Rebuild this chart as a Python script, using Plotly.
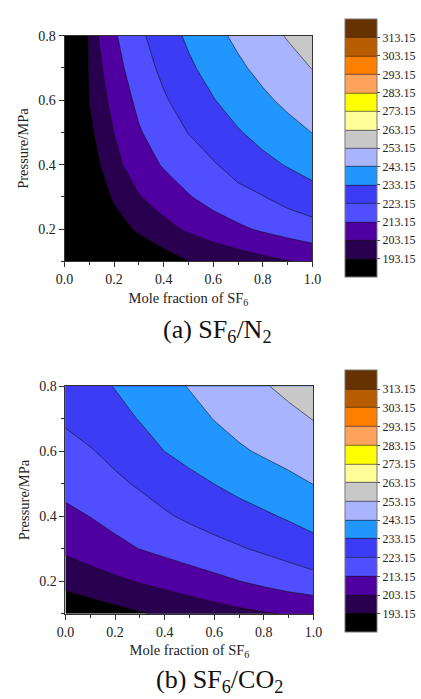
import plotly.graph_objects as go

# ---------------- data ----------------
mole_fraction = [0.0, 0.1, 0.2, 0.3, 0.4, 0.5, 0.6, 0.7, 0.8, 0.9, 1.0]
pressure = [0.1, 0.2, 0.3, 0.4, 0.5, 0.6, 0.7, 0.8]

# liquefaction temperature (K), rows = pressure, columns = mole fraction of SF6
temp_sf6_n2 = [
    [77.4, 168.1, 178.0, 183.8, 188.5, 193.0, 195.6, 198.1, 200.6, 202.7, 204.9],
    [83.6, 177.7, 188.2, 194.9, 200.2, 204.5, 208.3, 211.5, 214.4, 217.1, 219.5],
    [88.0, 183.2, 194.6, 202.6, 207.9, 212.5, 216.7, 220.2, 222.8, 226.5, 229.3],
    [91.2, 187.5, 200.3, 208.5, 214.0, 218.6, 222.3, 226.9, 230.5, 233.8, 237.0],
    [93.9, 190.8, 203.3, 212.3, 218.2, 223.4, 228.3, 232.4, 236.4, 240.0, 243.3],
    [96.2, 193.5, 206.7, 215.4, 222.0, 227.8, 232.7, 237.4, 241.4, 245.2, 248.8],
    [98.2, 196.0, 209.5, 218.5, 225.4, 231.5, 236.8, 241.5, 245.8, 249.8, 253.4],
    [100.0, 198.1, 211.9, 221.1, 228.5, 234.8, 240.3, 245.2, 249.7, 253.8, 257.7],
]

temp_sf6_co2 = [
    [185.0, 187.6, 190.0, 192.3, 194.6, 196.8, 198.9, 200.8, 202.4, 203.7, 204.5],
    [196.5, 198.9, 201.4, 203.8, 206.1, 208.4, 210.7, 213.0, 215.3, 217.6, 219.8],
    [204.9, 207.7, 210.5, 213.3, 215.6, 217.9, 220.1, 222.3, 224.6, 227.0, 229.5],
    [211.0, 213.3, 216.3, 219.2, 222.1, 224.7, 227.2, 229.6, 231.8, 234.2, 237.0],
    [216.0, 218.7, 221.4, 224.2, 227.1, 230.1, 233.2, 235.9, 238.4, 240.8, 243.3],
    [220.3, 222.5, 225.6, 229.4, 233.2, 236.6, 239.5, 242.0, 244.3, 246.5, 248.7],
    [224.3, 227.3, 230.3, 233.6, 236.9, 240.2, 243.4, 246.2, 248.7, 251.0, 253.4],
    [227.6, 230.5, 233.5, 236.9, 240.3, 243.6, 246.8, 249.8, 252.5, 255.2, 257.7],
]

levels = [193.15, 203.15, 213.15, 223.15, 233.15, 243.15, 253.15,
          263.15, 273.15, 283.15, 293.15, 303.15, 313.15]
level_labels = ["193.15", "203.15", "213.15", "223.15", "233.15", "243.15", "253.15",
                "263.15", "273.15", "283.15", "293.15", "303.15", "313.15"]
band_colors = ["#000000", "#29004f", "#5000a0", "#4f4fff", "#3c3cf5", "#2196ff",
               "#a9b4ff", "#c8c8c8", "#ffff99", "#ffff00", "#ffa35c", "#ff8000",
               "#b85c00", "#663300"]

x_ticks = [0.0, 0.2, 0.4, 0.6, 0.8, 1.0]
y_ticks = [0.2, 0.4, 0.6, 0.8]

# ---------------- figure ----------------
W, H = 421, 699
FONT = "Liberation Serif"
n_bands = len(band_colors)
colorscale = [[i / (n_bands - 1), c] for i, c in enumerate(band_colors)]
step = levels[1] - levels[0]


def px_x(v):
    return v / W


def px_y(v):
    return 1 - v / H


def colorbar(top, bottom):
    return dict(
        x=px_x(351), xanchor="left", xpad=0,
        y=px_y((top + bottom) / 2), yanchor="middle", ypad=0,
        len=(bottom - top) / H, lenmode="fraction",
        thickness=32, thicknessmode="pixels",
        outlinewidth=1, outlinecolor="#777777",
        tickmode="array", tickvals=levels, ticktext=level_labels,
        ticks="outside", ticklen=3, tickcolor="#444444",
        tickfont=dict(family=FONT, size=12, color="#222222"),
    )


def contour(z, xa, ya, cb):
    return go.Contour(
        x=mole_fraction, y=pressure, z=z,
        zmin=levels[0] - step, zmax=levels[-1] + step,
        autocontour=False,
        contours=dict(start=levels[0], end=levels[-1], size=step,
                      coloring="fill", showlines=True),
        line=dict(color="#111111", width=0.6, smoothing=0),
        colorscale=colorscale,
        colorbar=cb,
        xaxis=xa, yaxis=ya,
        hoverinfo="skip",
    )


fig = go.Figure()
fig.add_trace(contour(temp_sf6_n2, "x", "y", colorbar(12, 273)))
fig.add_trace(contour(temp_sf6_co2, "x2", "y2", colorbar(367, 632)))

axis_common = dict(
    showgrid=False, zeroline=False,
    showline=True, mirror=True, linecolor="#333333", linewidth=1,
    ticks="outside", ticklen=5, tickcolor="#333333",
    tickfont=dict(family=FONT, size=14, color="#222222"),
)
xaxis_common = dict(axis_common, range=[0, 1], tickmode="array", tickvals=x_ticks,
                    tickformat=".1f",
                    minor=dict(dtick=0.1, ticks="outside", ticklen=3, tickcolor="#333333"),
                    title=dict(text="Mole fraction of SF<sub>6</sub>",
                               font=dict(family=FONT, size=14.5, color="#222222"),
                               standoff=6))
yaxis_common = dict(axis_common, range=[0.1, 0.8], tickmode="array", tickvals=y_ticks,
                    tickformat=".1f",
                    minor=dict(dtick=0.1, ticks="outside", ticklen=3, tickcolor="#333333"),
                    title=dict(text="Pressure/MPa",
                               font=dict(family=FONT, size=14.5, color="#222222"),
                               standoff=6))

fig.update_layout(
    width=W, height=H,
    margin=dict(l=0, r=0, t=0, b=0),
    paper_bgcolor="white", plot_bgcolor="white",
    showlegend=False,
    xaxis=dict(xaxis_common, domain=[px_x(58), px_x(317)], anchor="y"),
    yaxis=dict(yaxis_common, domain=[px_y(257), px_y(29)], anchor="x"),
    xaxis2=dict(xaxis_common, domain=[px_x(59), px_x(318)], anchor="y2"),
    yaxis2=dict(yaxis_common, domain=[px_y(613), px_y(383)], anchor="x2"),
    annotations=[
        dict(text="(a) SF<sub>6</sub>/N<sub>2</sub>", x=px_x(217), y=px_y(327),
             xref="paper", yref="paper", showarrow=False, xanchor="center", yanchor="middle",
             font=dict(family=FONT, size=26, color="#111111")),
        dict(text="(b) SF<sub>6</sub>/CO<sub>2</sub>", x=px_x(220), y=px_y(681),
             xref="paper", yref="paper", showarrow=False, xanchor="center", yanchor="middle",
             font=dict(family=FONT, size=26, color="#111111")),
    ],
)

fig.write_html(
    "out.html",
    config={"responsive": False, "displayModeBar": False},
    post_script="document.body.style.margin='0';document.body.style.overflow='hidden';",
)
